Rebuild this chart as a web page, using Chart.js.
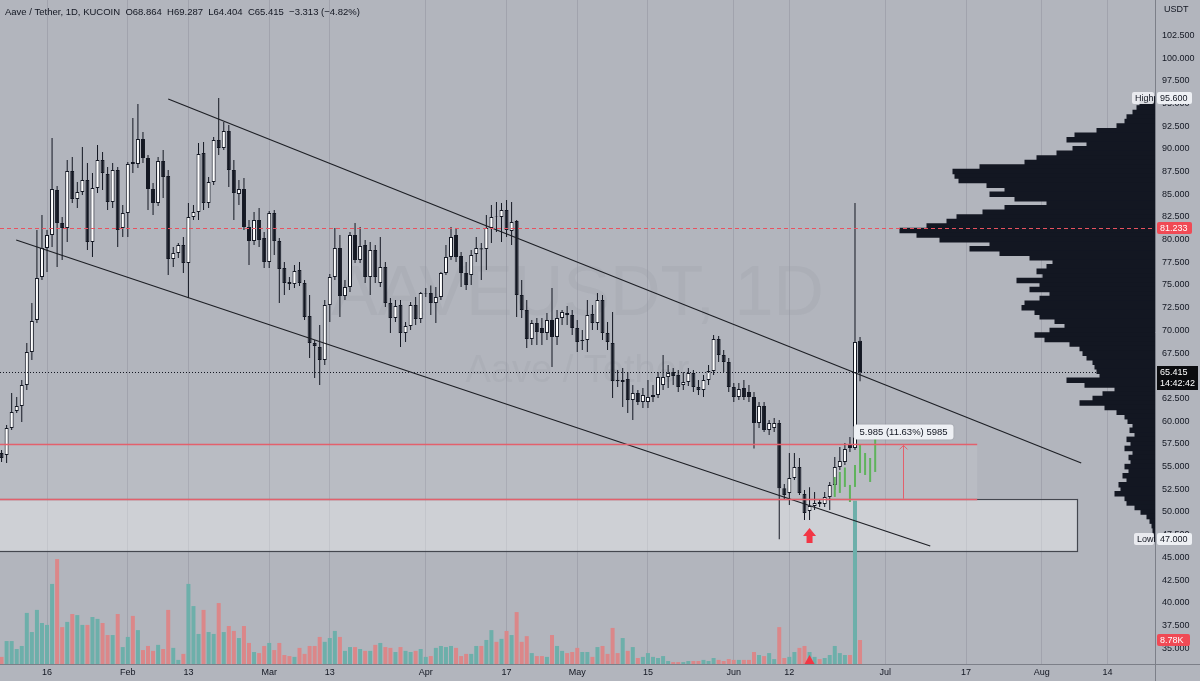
<!DOCTYPE html>
<html>
<head>
<meta charset="utf-8">
<title>AAVEUSDT 1D</title>
<script src="https://cdn.jsdelivr.net/npm/chart.js@4.4.0/dist/chart.umd.min.js"></script>
<style>
  html, body { margin: 0; padding: 0; background: #b2b5bd; }
  #wrap { position: relative; width: 1200px; height: 681px; }
  canvas { display: block; }
</style>
</head>
<body>
<div id="wrap"><canvas id="chart" width="1200" height="681"></canvas></div>
<script>
// ---- daily candles, first one is 7 Jan 2023 (day -9 counted from 16 Jan) ----
const firstDay = -9;

const opens = [
  56.50, 56.28, 59.25, 61.13, 61.68, 63.99, 67.63, 71.15, 75.88, 79.08,
  80.51, 85.46, 81.83, 81.28, 87.56, 84.47, 85.24, 86.57, 79.74, 85.69,
  88.77, 87.23, 84.14, 87.67, 81.28, 82.93, 88.55, 88.33, 91.08, 88.99,
  85.57, 84.03, 88.66, 87.01, 77.87, 78.53, 79.41, 77.43, 82.49, 83.04,
  89.54, 84.03, 86.35, 90.97, 90.09, 91.96, 87.67, 85.02, 85.57, 81.39,
  79.85, 82.16, 80.18, 77.54, 82.93, 79.85, 76.87, 75.33, 75.11, 76.65,
  75.22, 71.59, 68.62, 68.17, 66.74, 72.80, 75.88, 79.08, 73.79, 74.78,
  80.51, 77.76, 79.41, 75.88, 78.86, 75.22, 76.98, 73.02, 71.37, 72.80,
  69.72, 70.49, 72.80, 71.26, 74.07, 74.12, 73.02, 73.68, 76.32, 78.09,
  80.51, 78.20, 76.32, 76.10, 78.42, 79.05, 78.97, 81.28, 82.60, 82.49,
  83.26, 80.95, 82.05, 73.90, 72.25, 69.06, 70.82, 70.27, 69.72, 71.15,
  69.28, 71.37, 71.92, 71.70, 70.27, 68.83, 68.94, 71.81, 70.82, 73.35,
  69.72, 68.61, 64.54, 64.32, 64.65, 62.34, 63.11, 62.12, 62.12, 62.67,
  62.89, 63.99, 64.87, 65.42, 65.09, 63.99, 64.32, 65.31, 63.77, 63.44,
  64.54, 65.53, 69.06, 67.30, 66.52, 63.77, 62.67, 63.66, 63.22, 62.67,
  59.80, 61.68, 59.03, 59.25, 59.80, 52.63, 52.09, 53.75, 54.96, 51.98,
  50.11, 50.66, 51.11, 50.88, 51.65, 52.98, 54.96, 55.51, 57.38, 57.05,
  68.864
];
const highs = [
  56.83, 59.58, 63.11, 62.67, 64.54, 68.62, 73.02, 81.06, 82.71, 81.06,
  91.19, 85.91, 82.49, 88.77, 89.10, 86.35, 90.20, 88.44, 87.34, 90.42,
  89.65, 87.99, 88.44, 87.99, 83.81, 88.55, 93.39, 94.94, 91.85, 89.32,
  86.24, 89.10, 89.87, 87.67, 79.19, 79.63, 80.29, 84.03, 83.81, 90.64,
  90.75, 86.90, 91.30, 95.60, 92.95, 92.62, 88.77, 86.57, 86.79, 82.16,
  83.04, 83.48, 80.84, 83.15, 83.26, 80.18, 77.54, 75.88, 77.21, 77.54,
  75.55, 73.90, 68.94, 70.60, 73.35, 76.21, 81.28, 80.51, 75.55, 80.84,
  81.83, 81.39, 79.96, 79.74, 79.41, 80.29, 77.54, 73.57, 73.35, 73.35,
  70.93, 73.13, 73.68, 74.23, 74.67, 74.94, 74.78, 76.43, 79.41, 81.39,
  81.28, 78.64, 77.54, 78.86, 80.29, 79.63, 82.71, 83.81, 84.14, 84.03,
  84.36, 84.14, 82.16, 75.55, 73.35, 71.15, 71.37, 71.37, 71.92, 74.67,
  72.25, 72.25, 72.69, 72.25, 71.15, 70.05, 73.35, 72.80, 74.12, 73.90,
  70.93, 72.03, 65.64, 65.86, 65.42, 63.99, 63.44, 63.66, 64.54, 63.99,
  65.42, 67.30, 66.19, 65.86, 65.64, 65.42, 65.86, 65.64, 64.54, 65.09,
  66.19, 69.50, 69.39, 67.85, 66.96, 64.21, 64.21, 64.54, 63.99, 63.22,
  62.12, 62.12, 60.14, 60.36, 60.14, 53.09, 56.50, 56.50, 55.95, 52.43,
  52.74, 52.21, 51.32, 52.21, 53.31, 56.06, 57.16, 57.60, 58.26, 84.03,
  69.287
];
const lows = [
  55.51, 55.40, 59.03, 60.91, 59.91, 63.44, 66.74, 70.82, 75.55, 76.43,
  79.19, 76.98, 77.76, 79.74, 84.03, 83.48, 84.91, 78.86, 78.09, 85.13,
  85.46, 83.26, 83.48, 79.19, 80.29, 80.29, 87.34, 87.89, 88.44, 83.26,
  82.71, 83.70, 84.58, 76.10, 76.98, 77.98, 76.32, 73.57, 82.16, 82.16,
  83.26, 83.48, 86.02, 89.32, 89.87, 85.80, 82.16, 83.81, 81.06, 77.21,
  79.41, 79.19, 76.87, 76.87, 78.31, 73.02, 73.90, 74.45, 74.67, 74.90,
  71.15, 66.96, 64.76, 63.99, 66.19, 70.93, 75.55, 71.48, 73.35, 74.23,
  77.43, 77.43, 75.22, 73.90, 75.22, 74.78, 72.58, 69.72, 70.93, 68.17,
  68.73, 70.05, 70.60, 70.82, 73.68, 71.70, 70.82, 73.35, 76.10, 77.76,
  77.54, 74.78, 74.45, 75.00, 77.54, 75.55, 76.65, 79.63, 80.84, 79.74,
  80.29, 79.41, 71.48, 71.37, 68.06, 68.39, 68.39, 68.39, 68.94, 65.97,
  68.39, 70.60, 70.60, 69.50, 67.63, 67.85, 67.63, 70.05, 70.05, 68.94,
  67.85, 62.56, 63.77, 61.57, 60.91, 60.14, 61.79, 61.46, 61.46, 62.12,
  62.56, 63.44, 63.66, 63.99, 63.22, 63.44, 63.88, 63.22, 62.89, 62.67,
  63.99, 65.09, 66.52, 65.42, 63.22, 62.12, 62.34, 62.34, 62.12, 56.99,
  59.25, 58.81, 58.48, 58.81, 47.00, 51.32, 50.77, 53.53, 51.87, 49.12,
  49.12, 50.22, 50.55, 50.55, 50.22, 52.43, 54.63, 55.18, 56.61, 56.83,
  64.404
];
const closes = [
  55.95, 59.25, 61.02, 61.68, 63.99, 67.63, 71.04, 75.77, 79.08, 80.51,
  85.57, 81.83, 81.28, 87.56, 84.47, 85.24, 86.57, 79.74, 85.69, 88.77,
  87.34, 84.14, 87.67, 81.06, 82.93, 88.33, 88.33, 91.08, 88.99, 85.57,
  84.03, 88.66, 86.90, 77.87, 78.53, 79.41, 77.43, 82.49, 83.04, 89.43,
  84.03, 86.35, 90.97, 90.09, 91.96, 87.67, 85.13, 85.57, 81.39, 79.85,
  82.16, 79.96, 77.54, 82.93, 79.85, 76.76, 75.22, 75.11, 76.54, 75.22,
  71.48, 68.62, 68.28, 66.74, 72.80, 75.88, 79.08, 73.79, 74.78, 80.51,
  77.76, 79.30, 75.88, 78.86, 75.88, 76.98, 73.02, 71.37, 72.69, 69.72,
  70.49, 72.80, 71.26, 74.12, 74.12, 73.02, 73.68, 76.32, 78.09, 80.29,
  78.09, 76.32, 75.00, 78.31, 79.08, 78.90, 81.28, 82.49, 82.55, 83.26,
  81.06, 81.94, 73.90, 72.25, 69.06, 70.82, 69.83, 69.72, 71.15, 69.28,
  71.37, 72.03, 71.70, 70.27, 68.73, 68.94, 71.70, 70.82, 73.35, 69.72,
  68.73, 64.43, 64.43, 64.54, 62.34, 63.11, 62.12, 62.89, 62.67, 62.89,
  64.87, 64.87, 65.31, 64.98, 63.77, 64.32, 65.31, 63.77, 63.44, 64.54,
  65.53, 69.06, 67.30, 66.52, 63.77, 62.67, 63.55, 62.67, 62.67, 59.80,
  61.68, 59.03, 59.80, 59.80, 52.63, 51.87, 53.75, 54.96, 52.09, 49.89,
  50.66, 51.00, 50.88, 51.65, 52.98, 54.96, 55.62, 56.94, 57.05, 68.728,
  65.415
];
// volume in thousands of AAVE
const volumes = [
  2.6, 8.4, 8.4, 5.5, 6.6, 18.7, 11.7, 19.8, 15.0, 14.3,
  29.3, 38.4, 13.5, 15.4, 18.3, 17.9, 14.3, 14.3, 17.2, 16.5,
  15.0, 10.6, 10.6, 18.3, 6.2, 9.9, 17.6, 12.4, 5.1, 6.6,
  4.8, 7.0, 5.5, 19.8, 5.9, 1.5, 3.7, 29.3, 21.2, 11.0,
  19.8, 11.7, 11.0, 22.3, 11.7, 13.9, 12.1, 9.5, 13.9, 7.7,
  4.4, 4.0, 6.6, 7.7, 5.1, 7.7, 3.3, 2.9, 2.6, 5.9,
  3.7, 6.6, 6.6, 9.9, 8.1, 9.5, 12.1, 9.9, 4.8, 6.2,
  6.2, 5.5, 4.8, 4.8, 7.0, 7.7, 6.2, 5.9, 4.4, 6.2,
  4.8, 4.4, 4.8, 5.5, 2.6, 2.9, 5.9, 6.6, 6.2, 6.6,
  5.9, 2.9, 3.7, 3.7, 6.6, 6.6, 8.8, 12.4, 8.1, 9.2,
  12.1, 10.6, 19.0, 8.1, 10.2, 4.0, 2.9, 2.9, 2.6, 10.6,
  6.6, 4.8, 4.0, 4.4, 5.9, 4.4, 4.4, 2.6, 6.2, 6.6,
  3.7, 13.2, 4.0, 9.5, 4.8, 6.2, 2.2, 2.6, 4.0, 2.6,
  2.2, 2.9, 1.1, 0.7, 0.7, 0.7, 1.1, 1.1, 1.1, 1.5,
  1.1, 2.2, 1.5, 1.1, 1.8, 1.5, 1.5, 1.5, 1.5, 4.4,
  3.3, 2.9, 4.0, 1.8, 13.5, 2.2, 2.6, 4.4, 5.9, 6.6,
  4.4, 2.6, 1.8, 2.2, 3.3, 6.6, 4.0, 3.3, 3.3, 59.7,
  8.78
];

// ---- axis ticks ----
const priceTicks = [35, 37.5, 40, 42.5, 45, 47.5, 50, 52.5, 55, 57.5, 60, 62.5, 65, 67.5,
  70, 72.5, 75, 77.5, 80, 82.5, 85, 87.5, 90, 92.5, 95, 97.5, 100, 102.5];
const timeTicks = [0, 16, 28, 44, 56, 75, 91, 105, 119, 136, 147, 166, 182, 197, 210];
const timeLabels = ['16', 'Feb', '13', 'Mar', '13', 'Apr', '17', 'May', '15', 'Jun', '12', 'Jul', '17', 'Aug', '14'];

// ---- visible range volume profile ----
const profilePrices = [
  95.5, 95.0, 94.5, 94.0, 93.5, 93.0, 92.5, 92.0, 91.5, 91.0,
  90.5, 90.0, 89.5, 89.0, 88.5, 88.0, 87.5, 87.0, 86.5, 86.0,
  85.5, 85.0, 84.5, 84.0, 83.5, 83.0, 82.5, 82.0, 81.5, 81.0,
  80.5, 80.0, 79.5, 79.0, 78.5, 78.0, 77.5, 77.0, 76.5, 76.0,
  75.5, 75.0, 74.5, 74.0, 73.5, 73.0, 72.5, 72.0, 71.5, 71.0,
  70.5, 70.0, 69.5, 69.0, 68.5, 68.0, 67.5, 67.0, 66.5, 66.0,
  65.5, 65.0, 64.5, 64.0, 63.5, 63.0, 62.5, 62.0, 61.5, 61.0,
  60.5, 60.0, 59.5, 59.0, 58.5, 58.0, 57.5, 57.0, 56.5, 56.0,
  55.5, 55.0, 54.5, 54.0, 53.5, 53.0, 52.5, 52.0, 51.5, 51.0,
  50.5, 50.0, 49.5, 49.0, 48.5, 48.0, 47.5, 47.0
];
const profileVolumes = [
  5, 15, 18, 22, 28, 30, 38, 58, 80, 88,
  68, 82, 98, 118, 130, 175, 202, 200, 196, 168,
  150, 165, 140, 108, 150, 172, 198, 208, 228, 255,
  238, 215, 165, 185, 155, 125, 102, 108, 118, 112,
  138, 115, 125, 105, 115, 130, 133, 120, 115, 100,
  90, 105, 120, 110, 85, 75, 72, 68, 62, 60,
  58, 55, 88, 70, 40, 52, 62, 75, 50, 38,
  30, 27, 22, 25, 20, 28, 24, 30, 22, 26,
  24, 30, 26, 32, 28, 36, 34, 40, 30, 28,
  20, 14, 8, 5, 3, 2, 1, 1
];

// ---- drawings ----
const ghostDays = [156, 157, 158, 159, 160, 161, 162, 163, 164];
const ghostLows = [51.66, 52.10, 52.76, 51.10, 52.76, 54.30, 54.08, 53.31, 54.41];
const ghostHighs = [53.86, 54.41, 54.90, 52.98, 55.18, 57.38, 56.50, 55.95, 58.26];

const upperLineDays = [24.0, 204.8];
const upperLinePrices = [95.48, 55.40];
const lowerLineDays = [-6.1, 174.9];
const lowerLinePrices = [79.96, 46.26];

const targetLevels = [57.445, 51.46];
const levelEndDay = 184.2;
const measureDay = 169.5;
const boxBottom = 45.7;
const boxEndDay = 204.0;
const resistance = 81.233;
const rangeHigh = 95.6;
const rangeLow = 47.0;
const signalDay = 151;

// ---- look ----
const FONT = "'Liberation Sans', Arial, sans-serif";
const BG = '#b2b5bd';
const INK = '#131722';
const RED = '#e3606c';
const VOL_UP = '#6dafaa';
const VOL_DOWN = '#db8789';

const days = opens.map((_, i) => firstDay + i);
const rising = closes.map((c, i) => c >= opens[i]);
const lastIdx = closes.length - 1;

function roundRect(ctx, x, y, w, h, r) {
  ctx.beginPath();
  if (ctx.roundRect) ctx.roundRect(x, y, w, h, r); else ctx.rect(x, y, w, h);
}

function axisTag(ctx, text, x, yc, w, fill, color) {
  ctx.fillStyle = fill;
  roundRect(ctx, x, Math.round(yc - 6), w, 12, 2);
  ctx.fill();
  ctx.fillStyle = color;
  ctx.textAlign = 'left';
  ctx.textBaseline = 'middle';
  ctx.fillText(text, x + 3, yc + 0.5);
}

const overlay = {
  id: 'overlay',
  beforeDraw(chart) {
    const { ctx, width, height } = chart;
    ctx.save();
    ctx.fillStyle = BG;
    ctx.fillRect(0, 0, width, height);
    ctx.restore();
  },
  beforeDatasetsDraw(chart) {
    const { ctx, chartArea: a, scales: { x, y } } = chart;
    ctx.save();
    ctx.beginPath();
    ctx.rect(a.left, a.top, a.right - a.left, a.bottom - a.top);
    ctx.clip();

    // watermark
    const cx = (a.left + a.right) / 2, cy = (a.top + a.bottom) / 2;
    ctx.fillStyle = 'rgba(150,153,163,0.22)';
    ctx.textAlign = 'center';
    ctx.textBaseline = 'middle';
    ctx.font = `70px ${FONT}`;
    ctx.fillText('AAVEUSDT, 1D', cx, cy - 36);
    ctx.font = `38px ${FONT}`;
    ctx.fillText('Aave / Tether', cx, cy + 40);

    // target zone and support box
    const yTop = y.getPixelForValue(targetLevels[0]);
    const yBot = y.getPixelForValue(targetLevels[1]);
    const yBox = y.getPixelForValue(boxBottom);
    const xLev = x.getPixelForValue(levelEndDay);
    const xBox = x.getPixelForValue(boxEndDay);
    ctx.fillStyle = 'rgba(255,255,255,0.10)';
    ctx.fillRect(a.left, yTop, xLev - a.left, yBot - yTop);
    ctx.fillStyle = 'rgba(255,255,255,0.37)';
    ctx.fillRect(a.left, yBot, xBox - a.left, yBox - yBot);
    ctx.strokeStyle = '#44474f';
    ctx.lineWidth = 1.2;
    ctx.strokeRect(a.left - 2, Math.round(yBot) + 0.5, Math.round(xBox) + 2.5, Math.round(yBox - yBot));
    ctx.restore();
  },
  afterDatasetsDraw(chart) {
    const { ctx, chartArea: a, scales: { x, y, yv } } = chart;
    ctx.save();
    ctx.beginPath();
    ctx.rect(a.left, a.top, a.right - a.left, a.bottom - a.top);
    ctx.clip();

    const xLev = x.getPixelForValue(levelEndDay);
    // target levels
    ctx.strokeStyle = RED;
    ctx.lineWidth = 1.5;
    targetLevels.forEach(p => {
      const yy = Math.round(y.getPixelForValue(p)) + 0.5;
      ctx.beginPath(); ctx.moveTo(a.left, yy); ctx.lineTo(xLev, yy); ctx.stroke();
    });

    // resistance dashed line
    const yr = Math.round(y.getPixelForValue(resistance)) + 0.5;
    ctx.setLineDash([4, 3]);
    ctx.strokeStyle = '#e8525f';
    ctx.lineWidth = 1;
    ctx.beginPath(); ctx.moveTo(a.left, yr); ctx.lineTo(a.right, yr); ctx.stroke();

    // last price dotted line
    const yl = Math.round(y.getPixelForValue(closes[lastIdx])) + 0.5;
    ctx.setLineDash([1, 2]);
    ctx.strokeStyle = INK;
    ctx.beginPath(); ctx.moveTo(a.left, yl); ctx.lineTo(a.right, yl); ctx.stroke();
    ctx.setLineDash([]);

    // price range measure
    const xm = Math.round(x.getPixelForValue(measureDay)) + 0.5;
    const ym1 = y.getPixelForValue(targetLevels[0]);
    const ym2 = y.getPixelForValue(targetLevels[1]);
    ctx.strokeStyle = RED;
    ctx.lineWidth = 1;
    ctx.beginPath(); ctx.moveTo(xm, ym2); ctx.lineTo(xm, ym1 + 1); ctx.stroke();
    ctx.beginPath(); ctx.moveTo(xm - 4, ym1 + 5); ctx.lineTo(xm, ym1 + 1); ctx.lineTo(xm + 4, ym1 + 5); ctx.stroke();

    const diff = targetLevels[0] - targetLevels[1];
    const label = `${diff.toFixed(3)} (${(diff / targetLevels[1] * 100).toFixed(2)}%) ${Math.round(diff * 1000)}`;
    ctx.font = `9.5px ${FONT}`;
    const tw = ctx.measureText(label).width;
    ctx.fillStyle = '#eef0f4';
    ctx.shadowColor = 'rgba(0,0,0,0.15)';
    ctx.shadowBlur = 2;
    roundRect(ctx, xm - tw / 2 - 6, ym1 - 20, tw + 12, 15, 3);
    ctx.fill();
    ctx.shadowBlur = 0;
    ctx.fillStyle = INK;
    ctx.textAlign = 'center';
    ctx.textBaseline = 'middle';
    ctx.fillText(label, xm, ym1 - 12);

    // signal arrow under the low candle
    const xs = x.getPixelForValue(signalDay);
    const ys = y.getPixelForValue(lows[signalDay - firstDay]) + 8;
    ctx.fillStyle = '#f23645';
    ctx.beginPath();
    ctx.moveTo(xs, ys);
    ctx.lineTo(xs + 6.5, ys + 8);
    ctx.lineTo(xs + 3, ys + 8);
    ctx.lineTo(xs + 3, ys + 15);
    ctx.lineTo(xs - 3, ys + 15);
    ctx.lineTo(xs - 3, ys + 8);
    ctx.lineTo(xs - 6.5, ys + 8);
    ctx.closePath();
    ctx.fill();

    // marker in the volume pane
    const yb = yv.getPixelForValue(0);
    ctx.beginPath();
    ctx.moveTo(xs - 5, yb);
    ctx.lineTo(xs, yb - 9);
    ctx.lineTo(xs + 5, yb);
    ctx.closePath();
    ctx.fill();
    ctx.restore();
  },
  afterDraw(chart) {
    const { ctx, chartArea: a, scales: { y, yv }, width, height } = chart;
    ctx.save();
    // axis frame pieces outside the plot area
    ctx.strokeStyle = '#7c7f88';
    ctx.lineWidth = 1;
    ctx.beginPath();
    ctx.moveTo(a.right + 0.5, a.bottom); ctx.lineTo(a.right + 0.5, height);
    ctx.moveTo(a.right, a.bottom + 0.5); ctx.lineTo(width, a.bottom + 0.5);
    ctx.stroke();

    ctx.font = `9px ${FONT}`;
    ctx.fillStyle = INK;
    ctx.textAlign = 'left';
    ctx.textBaseline = 'middle';
    ctx.fillText('USDT', a.right + 9, 10);

    const xt = a.right + 2;
    // high / low of the visible range
    const yh = y.getPixelForValue(rangeHigh);
    const ylo = y.getPixelForValue(rangeLow);
    axisTag(ctx, 'High', a.right - 23, yh, 22, 'rgba(238,240,244,0.9)', INK);
    axisTag(ctx, rangeHigh.toFixed(3), xt, yh, 35, '#eef0f4', INK);
    axisTag(ctx, 'Low', a.right - 21, ylo, 20, 'rgba(238,240,244,0.9)', INK);
    axisTag(ctx, rangeLow.toFixed(3), xt, ylo, 35, '#eef0f4', INK);

    // resistance tag
    axisTag(ctx, resistance.toFixed(3), xt, y.getPixelForValue(resistance), 35, '#f04a55', '#ffffff');

    // last price tag with countdown
    const yl = y.getPixelForValue(closes[lastIdx]);
    ctx.fillStyle = '#0b0c0f';
    ctx.fillRect(xt, Math.round(yl - 6), 41, 24);
    ctx.fillStyle = '#ffffff';
    ctx.fillText(closes[lastIdx].toFixed(3), xt + 3, yl + 0.5);
    ctx.fillText('14:42:42', xt + 3, yl + 11.5);

    // last volume tag
    axisTag(ctx, volumes[lastIdx].toFixed(2) + 'K', xt, yv.getPixelForValue(volumes[lastIdx]), 33, '#f04a55', '#ffffff');

    // legend line
    const chg = closes[lastIdx] - closes[lastIdx - 1];
    const pct = chg / closes[lastIdx - 1] * 100;
    const sgn = v => (v < 0 ? '\u2212' : '+') + Math.abs(v).toFixed(3);
    const head = `Aave / Tether, 1D, KUCOIN  O${opens[lastIdx].toFixed(3)}  H${highs[lastIdx].toFixed(3)}  ` +
      `L${lows[lastIdx].toFixed(3)}  C${closes[lastIdx].toFixed(3)}  ${sgn(chg)} (${pct < 0 ? '\u2212' : '+'}${Math.abs(pct).toFixed(2)}%)`;
    ctx.font = `9.5px ${FONT}`;
    ctx.fillStyle = INK;
    ctx.fillText(head, 5, 12);
    ctx.restore();
  }
};

Chart.defaults.font.family = FONT;

new Chart(document.getElementById('chart'), {
  type: 'bar',
  data: {
    datasets: [
      {
        type: 'bar', label: 'Volume',
        data: days.map((d, i) => ({ x: d, y: volumes[i] })),
        xAxisID: 'x', yAxisID: 'yv',
        backgroundColor: rising.map(r => (r ? VOL_UP : VOL_DOWN)),
        grouped: false, barPercentage: 1, categoryPercentage: 1, maxBarThickness: 4, inflateAmount: 0,
        order: 7
      },
      {
        type: 'bar', label: 'Volume profile', indexAxis: 'y',
        data: profilePrices.map((p, i) => ({ y: p, x: profileVolumes[i] })),
        xAxisID: 'xp', yAxisID: 'yp',
        backgroundColor: INK,
        grouped: false, barPercentage: 1, categoryPercentage: 1, inflateAmount: 0.5,
        order: 6
      },
      {
        type: 'bar', label: 'Wicks',
        data: days.map((d, i) => ({ x: d, y: [lows[i], highs[i]] })),
        xAxisID: 'x', yAxisID: 'y',
        backgroundColor: INK,
        grouped: false, barPercentage: 1, categoryPercentage: 1, maxBarThickness: 1, inflateAmount: 0,
        order: 5
      },
      {
        type: 'bar', label: 'Bodies',
        data: days.map((d, i) => ({ x: d, y: [opens[i], closes[i]] })),
        xAxisID: 'x', yAxisID: 'y',
        backgroundColor: rising.map(r => (r ? '#ffffff' : INK)),
        borderColor: INK, borderWidth: 1, borderSkipped: false,
        grouped: false, barPercentage: 1, categoryPercentage: 1, maxBarThickness: 4, inflateAmount: 0,
        order: 4
      },
      {
        type: 'bar', label: 'Projection',
        data: ghostDays.map((d, i) => ({ x: d, y: [ghostLows[i], ghostHighs[i]] })),
        xAxisID: 'x', yAxisID: 'y',
        backgroundColor: '#5fb35c',
        grouped: false, barPercentage: 1, categoryPercentage: 1, maxBarThickness: 2, inflateAmount: 0,
        order: 3
      },
      {
        type: 'line', label: 'Channel top',
        data: upperLineDays.map((d, i) => ({ x: d, y: upperLinePrices[i] })),
        xAxisID: 'x', yAxisID: 'y',
        borderColor: '#1d1f25', borderWidth: 1.2, pointRadius: 0,
        order: 1
      },
      {
        type: 'line', label: 'Channel bottom',
        data: lowerLineDays.map((d, i) => ({ x: d, y: lowerLinePrices[i] })),
        xAxisID: 'x', yAxisID: 'y',
        borderColor: '#1d1f25', borderWidth: 1.2, pointRadius: 0,
        order: 1
      }
    ]
  },
  options: {
    responsive: false,
    devicePixelRatio: 1,
    animation: false,
    events: [],
    layout: { padding: 0 },
    plugins: { legend: { display: false }, tooltip: { enabled: false } },
    scales: {
      x: {
        type: 'linear', position: 'bottom', min: -9.31, max: 219.41, offset: false,
        afterBuildTicks: s => { s.ticks = timeTicks.map(v => ({ value: v })); },
        afterFit: s => { s.height = 17; s.paddingLeft = 0; s.paddingRight = 0; },
        ticks: {
          autoSkip: false, maxRotation: 0, padding: 3, color: INK, font: { size: 9 },
          callback: (v, i) => timeLabels[i]
        },
        grid: { color: 'rgba(140,143,153,0.45)', lineWidth: 1, drawTicks: false, offset: false },
        border: { display: true, color: '#7c7f88' }
      },
      y: {
        type: 'linear', position: 'right', min: 33.26, max: 106.39, offset: false, beginAtZero: false,
        afterBuildTicks: s => { s.ticks = priceTicks.map(v => ({ value: v })); },
        afterFit: s => { s.width = 45; s.paddingTop = 0; s.paddingBottom = 0; },
        ticks: { padding: 7, color: INK, font: { size: 9 }, callback: v => Number(v).toFixed(3) },
        grid: { display: false, drawTicks: false },
        border: { display: true, color: '#7c7f88' }
      },
      yv: { axis: 'y', type: 'linear', display: false, min: 0, max: 243, offset: false },
      yp: { axis: 'y', type: 'linear', display: false, min: 33.26, max: 106.39, offset: false, beginAtZero: false },
      xp: { axis: 'x', type: 'linear', display: false, min: 0, max: 1155, reverse: true, offset: false }
    }
  },
  plugins: [overlay]
});
</script>
</body>
</html>
